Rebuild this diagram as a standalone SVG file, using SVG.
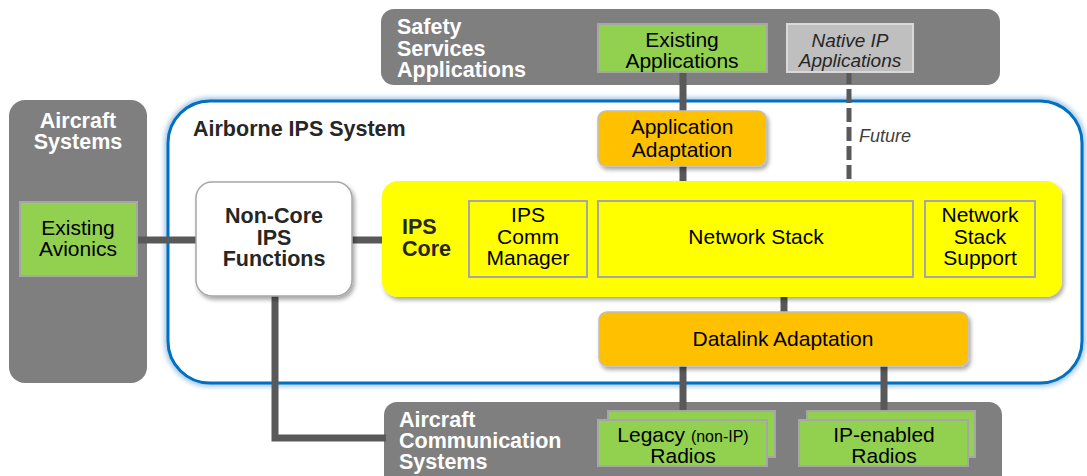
<svg xmlns="http://www.w3.org/2000/svg" width="1087" height="476" viewBox="0 0 1087 476">
<defs>
<style>
text{font-family:"Liberation Sans",Arial,sans-serif}
.hdr{font-weight:bold;fill:#ffffff;font-size:21.5px}
.dk{font-weight:bold;fill:#262626;font-size:21.5px}
.lbl{fill:#000000;font-size:21px;text-anchor:middle}
.grp{fill:#7f7f7f}
.green{fill:#92d050;stroke:#a6a6a6;stroke-width:2}
.ybox{fill:#ffff00;stroke:#a6a6a6;stroke-width:2}
.orange{fill:#ffc000;stroke:#bfbfbf;stroke-width:1.5}
.conn{stroke:#595959;stroke-width:7;fill:none}
</style>
<filter id="sh" x="-10%" y="-10%" width="130%" height="130%">
<feDropShadow dx="2" dy="3" stdDeviation="2" flood-color="#000" flood-opacity="0.35"/>
</filter>
<filter id="glow" x="-5%" y="-5%" width="110%" height="110%">
<feGaussianBlur stdDeviation="2.5"/>
</filter>
</defs>

<g id="safety-services">
<rect class="grp" x="381" y="9" width="619" height="76" rx="13"/>
<text class="hdr"><tspan x="397" y="34">Safety</tspan><tspan x="397" y="55.5">Services</tspan><tspan x="397" y="77">Applications</tspan></text>
</g>

<g id="aircraft-systems">
<rect class="grp" x="9" y="100" width="138" height="283" rx="16"/>
<text class="hdr" text-anchor="middle"><tspan x="78" y="128">Aircraft</tspan><tspan x="78" y="149">Systems</tspan></text>
</g>

<g id="aircraft-comm">
<rect class="grp" x="384" y="402" width="618" height="90" rx="13"/>
<text class="hdr"><tspan x="399" y="427">Aircraft</tspan><tspan x="399" y="448">Communication</tspan><tspan x="399" y="469">Systems</tspan></text>
</g>

<g id="airborne-ips">
<rect x="168" y="101" width="914" height="282" rx="42" fill="none" stroke="#9dc3e6" stroke-width="7" filter="url(#glow)"/>
<rect x="168" y="101" width="914" height="282" rx="42" fill="#ffffff" stroke="#0070c0" stroke-width="3"/>
<text class="dk" x="193" y="136">Airborne IPS System</text>
</g>

<g id="connectors">
<line class="conn" x1="137" y1="240" x2="200" y2="240"/>
<line class="conn" x1="350" y1="240" x2="384" y2="240"/>
<polyline class="conn" points="275,294 275,438 386,438"/>
<line class="conn" x1="683" y1="70" x2="683" y2="113"/>
<line class="conn" x1="683" y1="164" x2="683" y2="203"/>
<line x1="849" y1="70" x2="849" y2="195" stroke="#595959" stroke-width="5" stroke-dasharray="14,5"/>
<line class="conn" x1="784" y1="275" x2="784" y2="314"/>
<line class="conn" x1="683" y1="364" x2="683" y2="422"/>
<line class="conn" x1="884" y1="364" x2="884" y2="422"/>
<text x="859" y="142" font-size="18" font-style="italic" fill="#404040">Future</text>
</g>

<g id="existing-applications">
<rect class="green" x="598" y="24" width="169" height="48"/>
<text class="lbl"><tspan x="682" y="47">Existing</tspan><tspan x="682" y="68">Applications</tspan></text>
</g>

<g id="native-ip-applications">
<rect x="787" y="24" width="126" height="48" fill="#bfbfbf" stroke="#d9d9d9" stroke-width="2"/>
<text font-size="19" font-style="italic" fill="#262626" text-anchor="middle"><tspan x="850" y="47">Native IP</tspan><tspan x="850" y="67">Applications</tspan></text>
</g>

<g id="existing-avionics">
<rect class="green" x="20" y="202" width="117" height="74"/>
<text class="lbl"><tspan x="78" y="235">Existing</tspan><tspan x="78" y="256">Avionics</tspan></text>
</g>

<g id="non-core-ips">
<rect x="196" y="182" width="156" height="114" rx="16" fill="#ffffff" stroke="#a6a6a6" stroke-width="1.5" filter="url(#sh)"/>
<text class="dk" text-anchor="middle"><tspan x="274" y="223">Non-Core</tspan><tspan x="274" y="244.5">IPS</tspan><tspan x="274" y="266">Functions</tspan></text>
</g>

<g id="application-adaptation">
<rect class="orange" x="598" y="111" width="168" height="55" rx="8" filter="url(#sh)"/>
<text class="lbl"><tspan x="682" y="134">Application</tspan><tspan x="682" y="157">Adaptation</tspan></text>
</g>

<g id="ips-core">
<rect x="382" y="181" width="680" height="116" rx="16" fill="#ffff00" filter="url(#sh)"/>
<text class="dk"><tspan x="402" y="234">IPS</tspan><tspan x="402" y="256">Core</tspan></text>
</g>

<g id="ips-comm-manager">
<rect class="ybox" x="469" y="201" width="118" height="76"/>
<text class="lbl"><tspan x="528" y="222">IPS</tspan><tspan x="528" y="243.5">Comm</tspan><tspan x="528" y="265">Manager</tspan></text>
</g>

<g id="network-stack">
<rect class="ybox" x="598" y="201" width="315" height="76"/>
<text class="lbl" x="756" y="244">Network Stack</text>
</g>

<g id="network-stack-support">
<rect class="ybox" x="925" y="201" width="110" height="76"/>
<text class="lbl"><tspan x="980" y="222">Network</tspan><tspan x="980" y="243.5">Stack</tspan><tspan x="980" y="265">Support</tspan></text>
</g>

<g id="datalink-adaptation">
<rect class="orange" x="599" y="312" width="369" height="54" rx="8" filter="url(#sh)"/>
<text class="lbl" x="783" y="346">Datalink Adaptation</text>
</g>

<g id="legacy-radios">
<rect class="green" x="608" y="411" width="167" height="46"/>
<rect class="green" x="598" y="420" width="169" height="46"/>
<text class="lbl"><tspan x="683" y="442">Legacy <tspan font-size="16">(non-IP)</tspan></tspan><tspan x="683" y="463">Radios</tspan></text>
</g>

<g id="ip-enabled-radios">
<rect class="green" x="807" y="411" width="168" height="46"/>
<rect class="green" x="799" y="420" width="169" height="46"/>
<text class="lbl"><tspan x="884" y="442">IP-enabled</tspan><tspan x="884" y="463">Radios</tspan></text>
</g>
</svg>
